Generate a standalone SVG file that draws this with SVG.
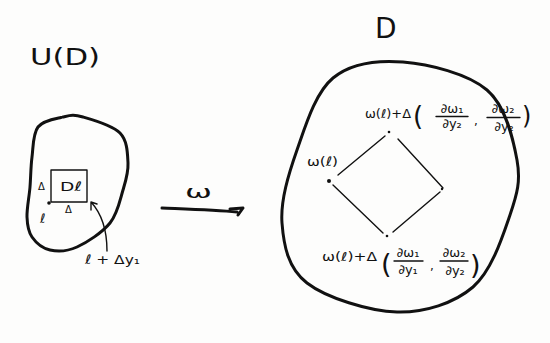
<svg xmlns="http://www.w3.org/2000/svg" width="550" height="343" viewBox="0 0 550 343">
<style>
.bg{fill:#fdfdfc}
.thick{fill:none;stroke:#111;stroke-width:3;stroke-linecap:round;stroke-linejoin:round}
.thin{fill:none;stroke:#111;stroke-width:1.4;stroke-linecap:round;stroke-linejoin:round}
.t{font-family:"DejaVu Sans","Liberation Sans",sans-serif;fill:#111}
.f{font-family:"DejaVu Sans","Liberation Sans",sans-serif;fill:#111;font-size:13px;text-anchor:middle}
.dot{fill:#111}
</style>
<rect class="bg" x="0" y="0" width="550" height="343"/>
<g id="left-region">
<text class="t" x="30" y="65" font-size="23" textLength="70" lengthAdjust="spacingAndGlyphs">U(D)</text>
<path class="thick" d="M63,117 C70.5,115.3 73.5,114.3 83,117 C92.5,119.7 112.5,125.3 120,133 C127.5,140.7 127.5,153.5 128,163 C128.5,172.5 126,180 123,190 C120,200 117.7,213.5 110,223 C102.3,232.5 87,242.5 77,247 C67,251.5 57.5,251.7 50,250 C42.5,248.3 35.8,242.5 32,237 C28.2,231.5 27.3,225.3 27,217 C26.7,208.7 29.2,197 30,187 C30.8,177 30.7,167 32,157 C33.3,147 32.8,133.7 38,127 C43.2,120.3 55.5,118.7 61,117.5"/>
</g>
<g id="box-Dl">
<rect class="thin" x="51" y="170" width="36" height="32"/>
<text class="t" x="60" y="191" font-size="13" textLength="22" lengthAdjust="spacingAndGlyphs">Dℓ</text>
<text class="t" x="38" y="190" font-size="10">Δ</text>
<text class="t" x="65" y="213" font-size="10">Δ</text>
<circle class="dot" cx="49" cy="203" r="1.8"/>
<text class="t" x="40" y="223" font-size="13">ℓ</text>
</g>
<g id="label-l-dy1">
<text class="t" x="85" y="264" font-size="13" textLength="55" lengthAdjust="spacingAndGlyphs">ℓ + Δy₁</text>
</g>
<g id="map-label">
<text class="t" x="185" y="198" font-size="17" textLength="27" lengthAdjust="spacingAndGlyphs">ω</text>
</g>
<g id="right-region">
<text class="t" x="375" y="38" font-size="28">D</text>
<path class="thick" d="M403,62 C428.7,64 468,73.7 487,90 C506,106.3 513.2,139.2 517,160 C520.8,180.8 517.3,193.8 510,215 C502.7,236.2 491.8,270.8 473,287 C454.2,303.2 424.7,312.7 397,312 C369.3,311.3 326.2,297.8 307,283 C287.8,268.2 283.7,245.2 282,223 C280.3,200.8 288.5,174.2 297,150 C305.5,125.8 315.3,92.7 333,78 C350.7,63.3 377.3,60 403,62 Z"/>
</g>
<g id="diamond">
<circle class="dot" cx="329" cy="181" r="2"/>
<circle class="dot" cx="389" cy="132" r="1.3"/>
<circle class="dot" cx="442" cy="189" r="1.2"/>
<circle class="dot" cx="387" cy="236" r="1.3"/>
<text class="t" x="307" y="166" font-size="13" textLength="31" lengthAdjust="spacingAndGlyphs">ω(ℓ)</text>
</g>
<g id="label-top">
<text class="t" x="365" y="118" font-size="12" textLength="46" lengthAdjust="spacingAndGlyphs">ω(ℓ)+Δ</text>
<text class="t" x="413" y="125" font-size="26">(</text>
<text class="f" x="452" y="113">∂ω₁</text>
<line class="thin" x1="436" y1="116.5" x2="468" y2="116.5"/>
<text class="f" x="452" y="128">∂y₂</text>
<text class="t" x="474" y="125" font-size="12">,</text>
<text class="f" x="503" y="113">∂ω₂</text>
<line class="thin" x1="487" y1="117.5" x2="520" y2="117.5"/>
<text class="f" x="504" y="131">∂y₂</text>
<text class="t" x="522" y="124" font-size="24">)</text>
</g>
<g id="label-bottom">
<text class="t" x="322" y="261" font-size="12" textLength="55" lengthAdjust="spacingAndGlyphs">ω(ℓ)+Δ</text>
<text class="t" x="381" y="273" font-size="27">(</text>
<text class="f" x="408" y="257">∂ω₁</text>
<line class="thin" x1="394" y1="261" x2="423" y2="261"/>
<text class="f" x="408" y="274">∂y₁</text>
<text class="t" x="430" y="270" font-size="12">,</text>
<text class="f" x="454" y="257">∂ω₂</text>
<line class="thin" x1="440" y1="261" x2="468" y2="261"/>
<text class="f" x="455" y="275">∂y₂</text>
<text class="t" x="470" y="274" font-size="27">)</text>
</g>
<g id="connectors">
<path class="thin" d="M338,175 L385,136"/>
<path class="thin" d="M398,139 L443,188"/>
<path class="thin" d="M333,185 L383,233"/>
<path class="thin" d="M393,232 L440,192"/>
<path class="thin" d="M107,251 C107,232 102,214 91,202 M91,202 L91,210 M91,202 L97,204"/>
<path class="thick" stroke-width="2.6" d="M162,208 C185,209 215,210 237,212 M230,209 L243,208 L238,215"/>
</g>
</svg>
